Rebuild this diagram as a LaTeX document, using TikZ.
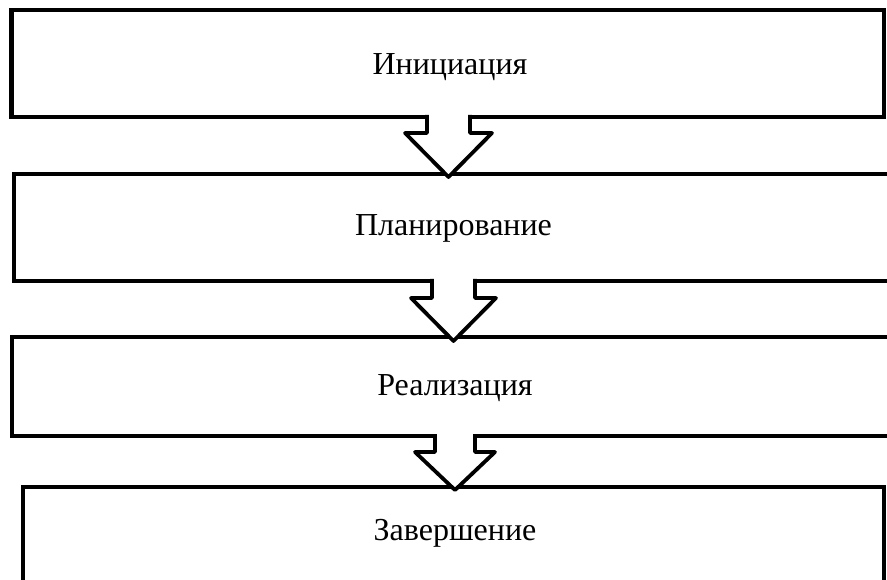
\documentclass[tikz,border=0pt]{standalone}
\usepackage{fontspec}
\setmainfont{Liberation Serif}
\begin{document}
\begin{tikzpicture}[x=1pt,y=-1pt,
  stage/.style={draw=black, line width=4.5pt, fill=white, rectangle, inner sep=0pt},
  lbl/.style={font=\fontsize{32}{36}\selectfont, inner sep=0pt, anchor=base},
  flow/.style={draw=black, fill=white, line width=3.8pt, line join=round}]
\useasboundingbox (0,0) rectangle (887,580);
\clip (0,0) rectangle (887,580);
\fill[white] (0,0) rectangle (887,580);
% boxes
\node[stage, minimum width=872.5pt, minimum height=107pt] (b1) at (447.75,63.5) {};
\node[stage, minimum width=886pt, minimum height=107pt] (b2) at (457,227.5) {};
\node[stage, minimum width=888pt, minimum height=99pt] (b3) at (456,386.5) {};
\node[stage, minimum width=861pt, minimum height=113pt] (b4) at (453.5,543.5) {};
% labels
\node[lbl] (t1) at (450,75) {Инициация};
\node[lbl] (t2) at (453.5,236) {Планирование};
\node[lbl] (t3) at (455,395) {Реализация};
\node[lbl] (t4) at (455,540) {Завершение};
% block arrows
\coordinate (a1) at (448.5,177);
\draw[flow] (427,115) -- (427,133) -- (405,133) -- (a1) -- (492,133) -- (470,133) -- (470,115);
\coordinate (a2) at (453.5,341);
\draw[flow] (432,279) -- (432,298) -- (411,298) -- (a2) -- (496,298) -- (475,298) -- (475,279);
\coordinate (a3) at (455,490);
\draw[flow] (435,434) -- (435,452) -- (415,452) -- (a3) -- (495,452) -- (475,452) -- (475,434);
\end{tikzpicture}
\end{document}
